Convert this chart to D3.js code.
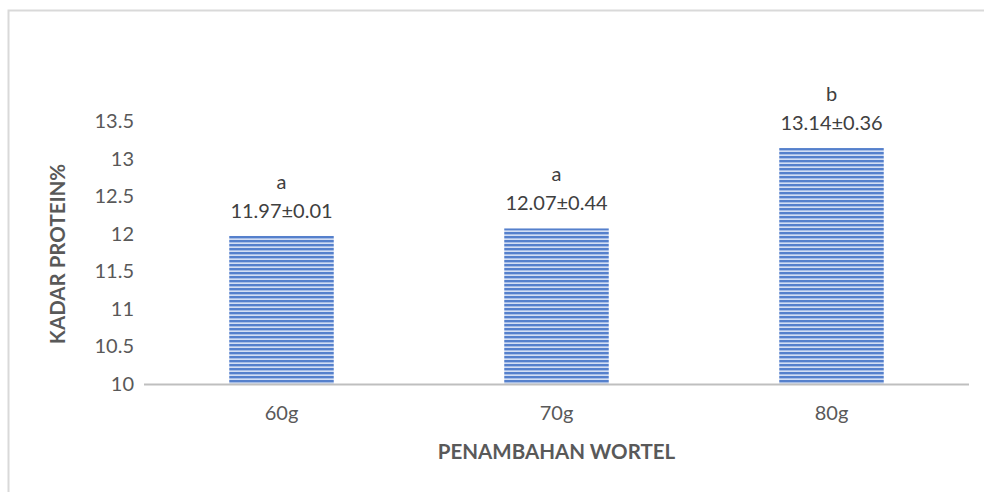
<!DOCTYPE html>
<meta charset="utf-8">
<head>
  <title>Kadar Protein</title>
  <script src="https://cdn.jsdelivr.net/npm/d3@7"></script>
  <style>
    body {margin: 0; background: #fff;}
    text {font-family: Lato, "Open Sans", sans-serif;}
  </style>
</head>
<body>
<script>
// chart data
var categories = ["60g", "70g", "80g"];
var values = [11.97, 12.07, 13.14];
var sds = [0.01, 0.44, 0.36];
var letters = ["a", "a", "b"];
var yTicks = [10, 10.5, 11, 11.5, 12, 12.5, 13, 13.5];

var width = 984, height = 492;
var plot = {left: 144, right: 969, top: 121, bottom: 384};

var svg = d3.select("body").append("svg")
    .attr("width", width)
    .attr("height", height);

// outer frame (only top and left edges are visible)
svg.append("rect")
    .attr("x", 8.5).attr("y", 10.5)
    .attr("width", width).attr("height", height)
    .attr("fill", "none")
    .attr("stroke", "#d9d9d9")
    .attr("stroke-width", 2);

// striped fill for bars
var defs = svg.append("defs");
var pat = defs.append("pattern")
    .attr("id", "stripes")
    .attr("patternUnits", "userSpaceOnUse")
    .attr("width", 8).attr("height", 4);
pat.append("rect").attr("width", 8).attr("height", 4).attr("fill", "#5580cc");
pat.append("rect").attr("y", 2).attr("width", 8).attr("height", 1).attr("fill", "#a6bde6");
pat.append("rect").attr("y", 3).attr("width", 8).attr("height", 1).attr("fill", "#d3def3");

var x = d3.scaleBand()
    .domain(categories)
    .range([plot.left, plot.right])
    .paddingInner(0.62)
    .paddingOuter(0.31);

var y = d3.scaleLinear()
    .domain([10, 13.5])
    .range([plot.bottom, plot.top]);

// y tick labels
svg.append("g")
    .selectAll("text")
    .data(yTicks)
    .enter()
    .append("text")
    .attr("x", 134)
    .attr("y", function(d){ return y(d); })
    .attr("dy", "0.35em")
    .attr("text-anchor", "end")
    .style("font-size", "20px")
    .attr("fill", "#595959")
    .text(function(d){ return d; });

// bars
svg.append("g")
    .selectAll("rect")
    .data(values)
    .enter()
    .append("rect")
    .attr("x", function(d, i){ return x(categories[i]); })
    .attr("y", function(d){ return y(d); })
    .attr("width", x.bandwidth())
    .attr("height", function(d){ return y(10) - y(d); })
    .attr("fill", "url(#stripes)");

// x axis line
svg.append("line")
    .attr("x1", plot.left).attr("x2", plot.right)
    .attr("y1", plot.bottom + 0.5).attr("y2", plot.bottom + 0.5)
    .attr("stroke", "#bfbfbf")
    .attr("stroke-width", 2);

// x tick labels
svg.append("g")
    .selectAll("text")
    .data(categories)
    .enter()
    .append("text")
    .attr("x", function(d){ return x(d) + x.bandwidth() / 2; })
    .attr("y", 420)
    .attr("text-anchor", "middle")
    .style("font-size", "20px")
    .attr("fill", "#595959")
    .text(function(d){ return d; });

// data labels
var lbl = svg.append("g");
values.forEach(function(v, i){
    var cx = x(categories[i]) + x.bandwidth() / 2;
    lbl.append("text")
        .attr("x", cx).attr("y", y(v) - 18)
        .attr("text-anchor", "middle")
        .style("font-size", "20px")
        .attr("fill", "#404040")
        .text(v.toFixed(2) + "\u00b1" + sds[i].toFixed(2));
    lbl.append("text")
        .attr("x", cx).attr("y", y(v) - 47)
        .attr("text-anchor", "middle")
        .style("font-size", "20px")
        .attr("fill", "#404040")
        .text(letters[i]);
});

// axis titles
svg.append("text")
    .attr("x", (plot.left + plot.right) / 2)
    .attr("y", 459)
    .attr("text-anchor", "middle")
    .style("font-size", "20.5px")
    .style("font-weight", "bold")
    .attr("fill", "#595959")
    .text("PENAMBAHAN WORTEL");

svg.append("text")
    .attr("transform", "translate(65," + 254 + ") rotate(-90)")
    .attr("text-anchor", "middle")
    .style("font-size", "20.5px")
    .style("font-weight", "bold")
    .attr("fill", "#595959")
    .text("KADAR PROTEIN%");
</script>
</body>
